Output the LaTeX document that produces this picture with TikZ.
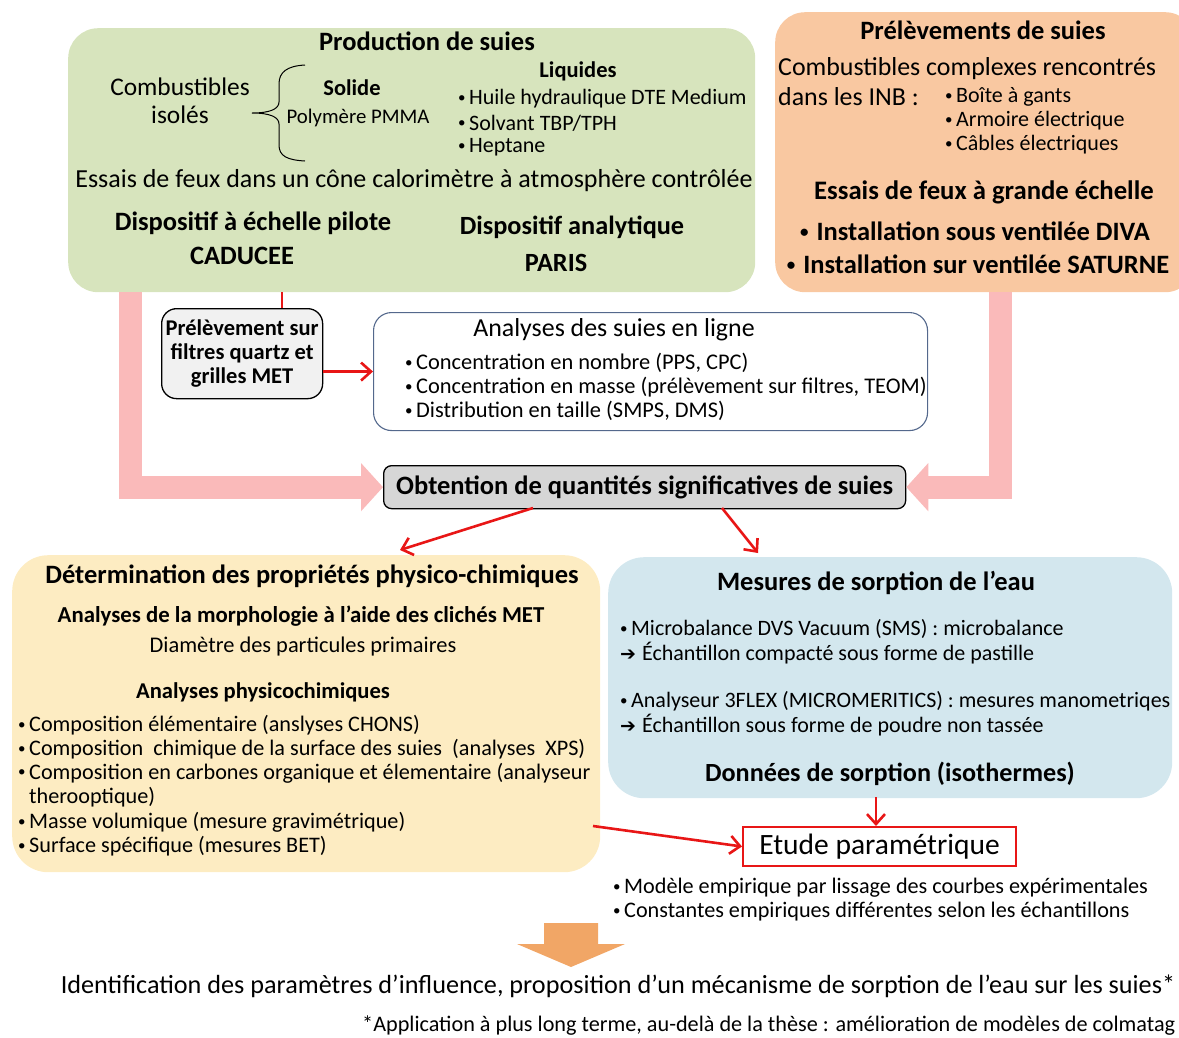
\documentclass[tikz,border=0pt]{standalone}
\usepackage{fontspec}
\setmainfont{Carlito}
\newfontfamily\dejavu{DejaVu Sans}
\usetikzlibrary{arrows.meta,calc}
\definecolor{gboxc}{RGB}{215,228,189}
\definecolor{oboxc}{RGB}{249,200,161}
\definecolor{yboxc}{RGB}{253,236,194}
\definecolor{bboxc}{RGB}{211,231,238}
\definecolor{pinkc}{RGB}{250,186,186}
\definecolor{grayc}{RGB}{214,214,214}
\definecolor{lgrayc}{RGB}{241,241,241}
\definecolor{redc}{RGB}{232,22,22}
\definecolor{slatec}{RGB}{84,104,140}
\definecolor{orarrc}{RGB}{241,166,102}
\newcommand{\fz}[1]{\fontsize{#1}{#1}\selectfont}
\newcommand{\bul}{\raisebox{0.1em}{\fontsize{15}{15}\selectfont•}\hspace{3.5pt}}
\newcommand{\bbul}{\raisebox{0.1em}{\fontsize{17}{17}\selectfont•}\hspace{8pt}}
\newcommand{\rarr}{{\dejavu\bfseries\fontsize{19}{19}\selectfont ➔}\hspace{6pt}}
\begin{document}
\begin{tikzpicture}[x=1pt,y=-1pt,
  t/.style={inner sep=0pt,anchor=west,text=black},
  tc/.style={inner sep=0pt,anchor=center,text=black},
  bigbox/.style={draw=none,anchor=north west,inner sep=0pt},
  redarr/.style={draw=redc,line width=2.6pt,-{Straight Barb[length=10pt,width=18pt,line width=2.6pt]}},
  redline/.style={draw=redc,line width=2.6pt},
  pinkarr/.style={draw=pinkc,line width=23pt,-{Triangle[length=22pt,width=47pt]}}]
\useasboundingbox (0,0) rectangle (1179,1037);

% ---------- big boxes ----------
\node[bigbox,fill=gboxc,rounded corners=30pt,minimum width=687pt,minimum height=264pt] (prod) at (68,28) {};
\node[bigbox,fill=oboxc,rounded corners=30pt,minimum width=420pt,minimum height=280pt] (prel2) at (775,12) {};
\node[bigbox,fill=yboxc,rounded corners=36pt,minimum width=588pt,minimum height=317pt] (phys) at (12,555) {};
\node[bigbox,fill=bboxc,rounded corners=36pt,minimum width=564pt,minimum height=241pt] (sorp) at (608,557) {};

% ---------- small boxes ----------
\node[draw=black,line width=1.3pt,fill=lgrayc,rounded corners=15pt,anchor=north west,minimum width=161pt,minimum height=90pt,inner sep=0pt,align=center,font=\bfseries\fontsize{22.5}{24}\selectfont] (filt) at (161,308) {Prélèvement sur\\filtres quartz et\\grilles MET};
\node[draw=slatec,line width=1.1pt,fill=white,rounded corners=18pt,anchor=north west,minimum width=554pt,minimum height=118pt,inner sep=0pt] (ana) at (373,312) {};
\node[draw=black,line width=1.3pt,fill=grayc,rounded corners=8pt,anchor=north west,minimum width=522pt,minimum height=43pt,inner sep=0pt,font=\bfseries\fz{26.5}] (obt) at (383,465) {Obtention de quantités significatives de suies};
\node[draw=redc,line width=2pt,fill=white,anchor=north west,minimum width=273pt,minimum height=39pt,inner sep=0pt,font=\fz{29.5}] (etude) at (742,826) {Etude paramétrique};

% ---------- pink arrows ----------
\coordinate (pl) at ($(prod.south west)+(62,0)$);
\coordinate (pr) at ($(prel2.south west)+(225,0)$);
\draw[pinkarr] (pl) |- (obt.west);
\draw[pinkarr] (pr) |- (obt.east);

% ---------- red connectors ----------
\coordinate (lk) at (282,0);
\draw[redline] (prod.south -| lk) -- (filt.north -| lk);
\draw[redarr] (filt.east |- ana.west) -- (ana.west);
\coordinate (o1) at (533,508);
\coordinate (o2) at (722,508);
\coordinate (y1) at (400,550);
\coordinate (b1) at (758,553);
\draw[redarr] (o1) -- (y1);
\draw[redarr] (o2) -- (b1);
\coordinate (s1) at (876,797);
\draw[redarr] (s1) -- (etude.north -| s1);
\coordinate (p1) at (593,826);
\draw[redarr] (p1) -- (etude.west);

% ---------- green box text ----------
\node[tc,font=\bfseries\fz{26.5}] (g1) at (427,41) {Production de suies};
\node[tc,font=\fz{25.4}] (g2) at (180,87) {Combustibles};
\node[tc,font=\fz{25.4}] (g3) at (180,115) {isolés};
\draw[black,line width=1pt] (305,65) .. controls (287,66) and (279,72) .. (279,84) -- (279,102) .. controls (279,109) and (270,113) .. (252,113) .. controls (270,113) and (279,117) .. (279,124) -- (279,145) .. controls (279,156) and (287,160) .. (305,161);
\node[tc,font=\bfseries\fz{22.5}] (g4) at (352,88) {Solide};
\node[tc,font=\fz{20.8}] (g5) at (358,118) {Polymère PMMA};
\node[tc,font=\bfseries\fz{22.5}] (g6) at (578,71) {Liquides};
\node[t,font=\fz{22}] (g7) at (458,99) {\bul Huile hydraulique DTE Medium};
\node[t,font=\fz{22}] (g8) at (458,123) {\bul Solvant TBP/TPH};
\node[t,font=\fz{22}] (g9) at (458,147) {\bul Heptane};
\node[tc,font=\fz{26}] (g10) at (414,181) {Essais de feux dans un cône calorimètre à atmosphère contrôlée};
\node[tc,font=\bfseries\fz{26.5}] (g11) at (253,223) {Dispositif à échelle pilote};
\node[tc,font=\bfseries\fz{26.5}] (g12) at (242,256) {CADUCEE};
\node[tc,font=\bfseries\fz{26.3}] (g13) at (572,227) {Dispositif analytique};
\node[tc,font=\bfseries\fz{26.3}] (g14) at (556,263) {PARIS};

% ---------- orange box text ----------
\node[tc,font=\bfseries\fz{26.5}] (r1) at (983,30) {Prélèvements de suies};
\node[t,font=\fz{25.9}] (r2) at (778,69) {Combustibles complexes rencontrés};
\node[t,font=\fz{25.9}] (r3) at (778,97) {dans les INB :};
\node[t,font=\fz{22}] (r4) at (945,97) {\bul Boîte à gants};
\node[t,font=\fz{22}] (r5) at (945,121) {\bul Armoire électrique};
\node[t,font=\fz{22}] (r6) at (945,145) {\bul Câbles électriques};
\node[tc,font=\bfseries\fz{26.7}] (r7) at (984,192) {Essais de feux à grande échelle};
\node[tc,font=\bfseries\fz{26.5}] (r8) at (975,231) {\bbul Installation sous ventilée DIVA};
\node[tc,font=\bfseries\fz{26.5}] (r9) at (978,264) {\bbul Installation sur ventilée SATURNE};

% ---------- analyses text ----------
\node[tc,font=\fz{25.9}] (a1) at (614,330) {Analyses des suies en ligne};
\node[t,font=\fz{22.4}] (a2) at (405,363) {\bul Concentration en nombre (PPS, CPC)};
\node[t,font=\fz{22.4}] (a3) at (405,387) {\bul Concentration en masse (prélèvement sur filtres, TEOM)};
\node[t,font=\fz{22.4}] (a4) at (405,411) {\bul Distribution en taille (SMPS, DMS)};

% ---------- yellow box text ----------
\node[tc,font=\bfseries\fz{26.5}] (y2) at (312,576) {Détermination des propriétés physico-chimiques};
\node[tc,font=\bfseries\fz{22.8}] (y3) at (301,616) {Analyses de la morphologie à l’aide des clichés MET};
\node[tc,font=\fz{22.4}] (y4) at (303,647) {Diamètre des particules primaires};
\node[tc,font=\bfseries\fz{22.6}] (y5) at (263,692) {Analyses physicochimiques};
\node[t,font=\fz{22.2}] (y6) at (18,725) {\bul Composition élémentaire (anslyses CHONS)};
\node[t,font=\fz{22.2}] (y7) at (18,749) {\bul Composition\ \ chimique de la surface des suies\ \ (analyses\ \ XPS)};
\node[t,font=\fz{22.2}] (y8) at (18,773) {\bul Composition en carbones organique et élementaire (analyseur};
\node[t,font=\fz{22.2}] (y9) at (29,797) {therooptique)};
\node[t,font=\fz{22.2}] (y10) at (18,822) {\bul Masse volumique (mesure gravimétrique)};
\node[t,font=\fz{22.2}] (y11) at (18,846) {\bul Surface spécifique (mesures BET)};

% ---------- blue box text ----------
\node[tc,font=\bfseries\fz{26.5}] (b2) at (876,583) {Mesures de sorption de l’eau};
\node[t,font=\fz{22}] (b3) at (620,629) {\bul Microbalance DVS Vacuum (SMS) : microbalance};
\node[t,font=\fz{22}] (b4) at (620,653) {\rarr Échantillon compacté sous forme de pastille};
\node[t,font=\fz{22}] (b5) at (620,701) {\bul Analyseur 3FLEX (MICROMERITICS) : mesures manometriqes};
\node[t,font=\fz{22}] (b6) at (620,725) {\rarr Échantillon sous forme de poudre non tassée};
\node[tc,font=\bfseries\fz{26.2}] (b7) at (890,774) {Données de sorption (isothermes)};

% ---------- bottom ----------
\node[t,font=\fz{22.2}] (m1) at (613,888) {\bul Modèle empirique par lissage des courbes expérimentales};
\node[t,font=\fz{22.2}] (m2) at (613,912) {\bul Constantes empiriques différentes selon les échantillons};
\fill[orarrc] (544,923) -- (598,923) -- (598,944) -- (625,944) -- (571,967) -- (517,944) -- (544,944) -- cycle;
\node[tc,font=\fz{26.2}] (f1) at (618,986) {Identification des paramètres d’influence, proposition d’un mécanisme de sorption de l’eau sur les suies*};
\node[t,font=\fz{22.2}] (f2) at (362,1026) {*Application à plus long terme, au-delà de la thèse : amélioration de modèles de colmatag};
\end{tikzpicture}
\end{document}
